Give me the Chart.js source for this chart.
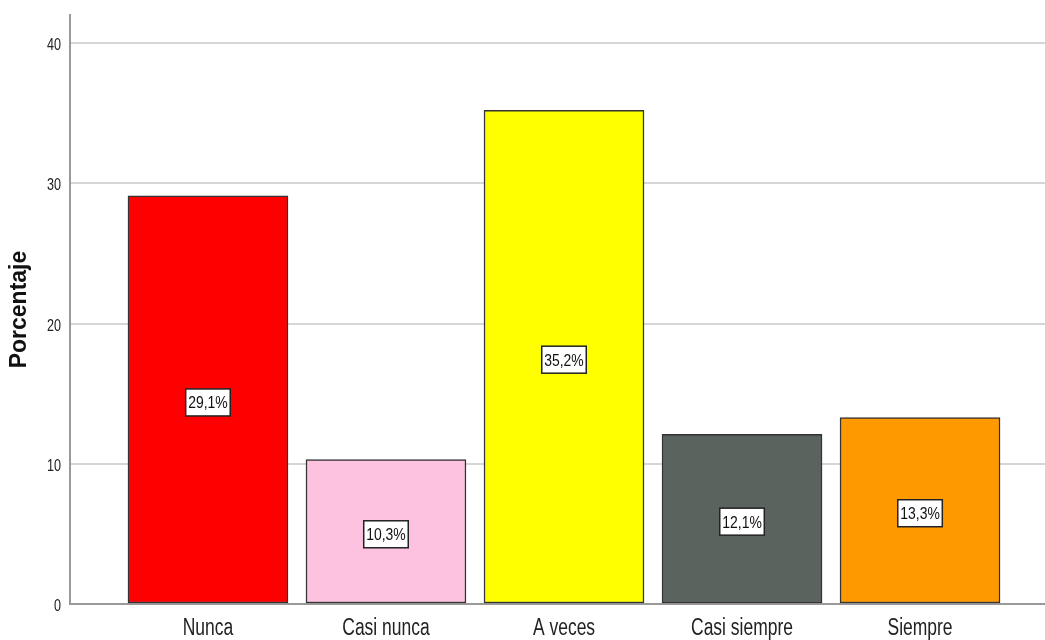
<!DOCTYPE html>
<html>
<head>
<meta charset="utf-8">
<script src="https://cdn.jsdelivr.net/npm/chart.js@4.4.1/dist/chart.umd.min.js"></script>
<style>
  body { margin: 0; overflow: hidden; background: #fff; }
  canvas { display: block; }
</style>
</head>
<body>
<canvas id="grafico" width="1058" height="640"></canvas>
<script>
// datos
const categorias = ['Nunca', 'Casi nunca', 'A veces', 'Casi siempre', 'Siempre'];
const porcentajes = [29.1, 10.3, 35.2, 12.1, 13.3];
const etiquetas = ['29,1%', '10,3%', '35,2%', '12,1%', '13,3%'];
const colores = ['#ff0000', '#fdc2e0', '#ffff00', '#5a635e', '#ff9900'];
const ticksY = [0, 10, 20, 30, 40];

const fuente = '"Liberation Sans", Arial, sans-serif';

// texto estrecho (el original usa una letra comprimida)
function textoEstrecho(ctx, txt, x, y, escala) {
    ctx.save();
    ctx.translate(x, y);
    ctx.scale(escala, 1);
    ctx.fillText(txt, 0, 0);
    ctx.restore();
}

// etiquetas de los ejes dibujadas a mano en las posiciones de las escalas
const etiquetasEjes = {
    id: 'etiquetasEjes',
    afterDraw(chart) {
        const ctx = chart.ctx;
        const sx = chart.scales.x;
        const sy = chart.scales.y;
        ctx.save();
        ctx.fillStyle = '#222';
        ctx.textBaseline = 'alphabetic';
        ctx.font = '23px ' + fuente;
        ctx.textAlign = 'center';
        categorias.forEach((c, i) => {
            textoEstrecho(ctx, c, sx.getPixelForValue(i), sy.bottom + 31, 0.76);
        });
        ctx.font = '17px ' + fuente;
        ctx.textAlign = 'right';
        ticksY.forEach(v => {
            textoEstrecho(ctx, String(v), sx.left - 9, sy.getPixelForValue(v) + 7, 0.74);
        });
        ctx.restore();
    }
};

// cajas blancas con el porcentaje en medio de cada barra
const etiquetasBarras = {
    id: 'etiquetasBarras',
    afterDatasetsDraw(chart) {
        const ctx = chart.ctx;
        const meta = chart.getDatasetMeta(0);
        ctx.save();
        ctx.font = '17px ' + fuente;
        ctx.textAlign = 'center';
        ctx.textBaseline = 'alphabetic';
        meta.data.forEach((bar, i) => {
            const cx = bar.x;
            const cy = (bar.y + bar.base) / 2 + 3;
            const w = ctx.measureText(etiquetas[i]).width * 0.82 + 5;
            const h = 27;
            ctx.fillStyle = '#fff';
            ctx.fillRect(cx - w / 2, cy - h / 2, w, h);
            ctx.strokeStyle = '#222';
            ctx.lineWidth = 1.5;
            ctx.strokeRect(cx - w / 2, cy - h / 2, w, h);
            ctx.fillStyle = '#111';
            textoEstrecho(ctx, etiquetas[i], cx, cy + 6, 0.82);
        });
        ctx.restore();
    }
};

new Chart(document.getElementById('grafico'), {
    type: 'bar',
    data: {
        datasets: [{
            data: porcentajes.map((v, i) => ({ x: i, y: v })),
            backgroundColor: colores,
            borderColor: '#333',
            borderWidth: 1.5,
            borderSkipped: false,
            barThickness: 160
        }]
    },
    plugins: [etiquetasBarras, etiquetasEjes],
    options: {
        responsive: false,
        animation: false,
        layout: { padding: { top: 15, right: 0, left: 0, bottom: 0 } },
        plugins: {
            legend: { display: false },
            tooltip: { enabled: false }
        },
        scales: {
            x: {
                type: 'linear',
                offset: false,
                min: -0.775,
                max: 4.775,
                afterFit: (s) => { s.height = 36; },
                grid: { display: false, drawTicks: false },
                border: { color: '#999', width: 2 },
                ticks: { display: false }
            },
            y: {
                min: 0,
                max: 42,
                afterFit: (s) => { s.width = 70; },
                afterBuildTicks: (s) => { s.ticks = ticksY.map(v => ({ value: v })); },
                grid: {
                    color: (c) => c.tick && c.tick.value > 0 ? '#d6d6d6' : 'rgba(0,0,0,0)',
                    lineWidth: 2,
                    drawTicks: false
                },
                border: { color: '#999', width: 2 },
                ticks: { display: false },
                title: {
                    display: true,
                    text: 'Porcentaje',
                    color: '#111',
                    padding: { top: 6, bottom: 0 },
                    font: { size: 23, weight: 'bold', family: fuente }
                }
            }
        }
    }
});
</script>
</body>
</html>
